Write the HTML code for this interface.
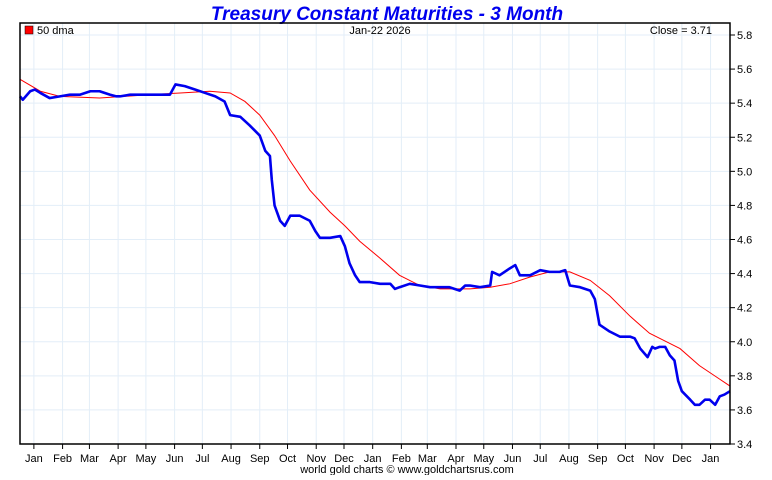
<!DOCTYPE html>
<html><head><meta charset="utf-8"><style>
body{margin:0;background:#fff;width:772px;height:475px;overflow:hidden;font-family:"Liberation Sans",sans-serif}
</style></head><body>
<svg id="chart" width="772" height="475" xmlns="http://www.w3.org/2000/svg" font-family="Liberation Sans, sans-serif">
<text x="387" y="20" text-anchor="middle" font-size="19" font-weight="bold" font-style="italic" fill="#0000ee">Treasury Constant Maturities - 3 Month</text>
<g id="grid"></g>
<g id="axes"></g>
<g id="series"></g>
<rect x="20" y="23" width="710" height="421" fill="none" stroke="#000" stroke-width="1.5"/>
<rect x="25" y="26" width="8" height="8" fill="#ff0000" stroke="#000" stroke-width="0.5"/>
<text x="37" y="34" font-size="11">50 dma</text>
<text x="380" y="34" font-size="11" text-anchor="middle">Jan-22  2026</text>
<text x="712" y="34" font-size="11" text-anchor="end">Close = 3.71</text>
<text x="407" y="473" font-size="11" text-anchor="middle">world gold charts © www.goldchartsrus.com</text>
</svg>
<script>
const yTicks=[3.4,3.6,3.8,4.0,4.2,4.4,4.6,4.8,5.0,5.2,5.4,5.6,5.8];
const monthLabels=["Jan","Feb","Mar","Apr","May","Jun","Jul","Aug","Sep","Oct","Nov","Dec"];
const blueDays=[0,3,11,16,22,32,43,54,65,76,86,97,104,108,119,130,140,151,162,168,178,189,200,211,221,227,238,248,259,265,270,272,275,281,286,292,302,313,319,324,335,346,351,356,362,367,378,389,400,405,410,421,432,443,454,464,475,481,486,497,508,510,518,529,535,540,551,562,572,583,589,594,605,616,621,626,637,648,659,664,670,678,683,686,691,697,702,707,711,715,724,729,734,740,745,751,756,761,767];
const blueVals=[5.44,5.42,5.47,5.48,5.46,5.43,5.44,5.45,5.45,5.47,5.47,5.45,5.44,5.44,5.45,5.45,5.45,5.45,5.45,5.51,5.50,5.48,5.46,5.44,5.41,5.33,5.32,5.27,5.21,5.12,5.09,4.95,4.80,4.71,4.68,4.74,4.74,4.71,4.65,4.61,4.61,4.62,4.56,4.46,4.39,4.35,4.35,4.34,4.34,4.31,4.32,4.34,4.33,4.32,4.32,4.32,4.30,4.33,4.33,4.32,4.33,4.41,4.39,4.43,4.45,4.39,4.39,4.42,4.41,4.41,4.42,4.33,4.32,4.30,4.25,4.10,4.06,4.03,4.03,4.02,3.96,3.91,3.97,3.96,3.97,3.97,3.92,3.89,3.77,3.71,3.66,3.63,3.63,3.66,3.66,3.63,3.68,3.69,3.71];
const redDays=[0,22,43,86,140,173,205,227,243,259,275,292,313,335,351,367,389,410,432,454,486,508,529,551,572,594,616,637,659,680,702,713,734,756,767];
const redVals=[5.54,5.47,5.44,5.43,5.45,5.46,5.47,5.46,5.41,5.33,5.21,5.06,4.89,4.76,4.68,4.59,4.49,4.39,4.33,4.31,4.31,4.32,4.34,4.38,4.41,4.41,4.36,4.27,4.15,4.05,3.99,3.96,3.86,3.78,3.74];
const startDate=Date.UTC(2023,11,17), totalDays=767;
const X0=20,X1=730,Y0=444,Y1=35,VMIN=3.4,VMAX=5.8;
const xs=d=>X0+d*(X1-X0)/totalDays;
const ys=v=>Y0-(v-VMIN)*(Y0-Y1)/(VMAX-VMIN);
const NS="http://www.w3.org/2000/svg";
const grid=document.getElementById('grid'),axes=document.getElementById('axes'),series=document.getElementById('series');
function mk(t,a,p){const e=document.createElementNS(NS,t);for(const k in a)e.setAttribute(k,a[k]);p.appendChild(e);return e;}
yTicks.forEach(v=>{
 const y=ys(v);
 const g=mk('line',{x1:X0,x2:X1,y1:y,y2:y,stroke:'#e3eef8','stroke-width':1},grid);
 
 
 mk('line',{x1:X1,x2:X1+5,y1:y,y2:y,stroke:'#000'},axes);
 const t=mk('text',{x:737,y:y+4,'font-size':11},axes);t.textContent=v.toFixed(1);
 
 
});
for(let y=2024,m=0;;m++){
 if(m>11){m=0;y++;}
 const d=(Date.UTC(y,m,1)-startDate)/86400000;
 if(d>totalDays)break;
 const x=xs(d);
 const g=mk('line',{x1:x,x2:x,y1:23,y2:Y0,stroke:'#e3eef8','stroke-width':1},grid);
 
 
 mk('line',{x1:x,x2:x,y1:Y0,y2:Y0+5,stroke:'#000'},axes);
 const t=mk('text',{x:x,y:462,'font-size':11,'text-anchor':'middle'},axes);t.textContent=monthLabels[m];
 
 
}
const r=mk('polyline',{points:redDays.map((d,i)=>xs(d)+','+ys(redVals[i])).join(' '),fill:'none',stroke:'#ff0000','stroke-width':1},series);


const b=mk('polyline',{points:blueDays.map((d,i)=>xs(d)+','+ys(blueVals[i])).join(' '),fill:'none',stroke:'#0000ee','stroke-width':2.6,'stroke-linejoin':'round'},series);


</script>
</body></html>
